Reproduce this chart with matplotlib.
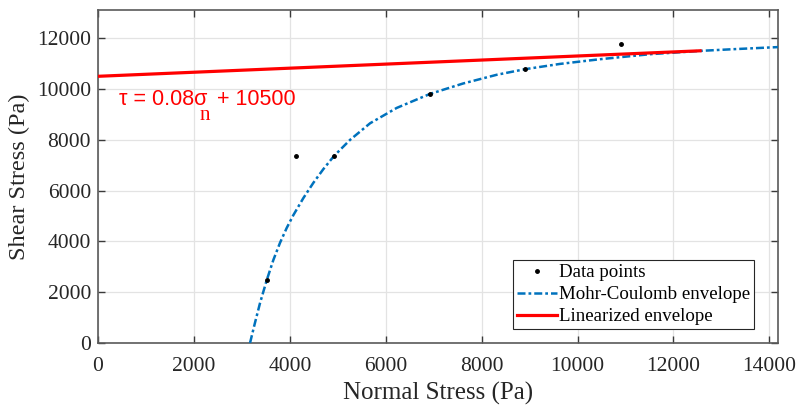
import numpy as np
import matplotlib
matplotlib.use("Agg")
import matplotlib.pyplot as plt

# Measured data points (normal stress, shear stress), Pa
sigma_pts = [3518, 4123, 4915, 6924, 8911, 10907]
tau_pts = [2470, 7365, 7365, 9807, 10780, 11764]

# Mohr-Coulomb envelope
sigma_mc = [3170, 3274, 3379, 3518, 3657, 3796, 3935, 4073, 4282, 4490,
            4699, 4922, 5255, 5673, 6229, 6924, 7619, 8315, 8905, 9635,
            10469, 11512, 12555, 13243, 14180]
tau_mc = [0, 800, 1575, 2470, 3271, 3947, 4529, 5032, 5705, 6304,
          6845, 7365, 7995, 8650, 9255, 9807, 10220, 10560, 10780, 10988,
          11173, 11370, 11500, 11567, 11650]

# Linearized envelope end points
sigma_lin = [0, 12555]
tau_lin = [10500, 11504]

plt.rcParams['font.family'] = ['Liberation Serif', 'DejaVu Serif']

fig = plt.figure(figsize=(8.06, 4.05), dpi=100)
ax = fig.add_axes([98/806, 1-343/405, 680/806, 333.5/405])

ax.plot(sigma_pts, tau_pts, 'k.', markersize=5, label='Data points', zorder=4)
ax.plot(sigma_mc, tau_mc, color='#0072BD', lw=1.8, dashes=(3.2, 1.2, 1.1, 1.2),
        label='Mohr-Coulomb envelope', zorder=3)
ax.plot(sigma_lin, tau_lin, color='#FF0000', lw=2.3, label='Linearized envelope', zorder=3)

# equation label: main text, subscript n, then the rest
sans = ['Liberation Sans', 'DejaVu Sans']
t1 = ax.text(438, 9374, 'τ = 0.08σ', color='#FF0000', fontsize=15.5, family=sans,
             va='baseline', ha='left')
ax.annotate('n', xy=(1, 0), xycoords=t1, xytext=(-8, -10), textcoords='offset pixels',
            color='#FF0000', fontsize=15, va='baseline', ha='left')
ax.annotate('+ 10500', xy=(1, 0), xycoords=t1, xytext=(10, 0), textcoords='offset pixels',
            color='#FF0000', fontsize=15.5, family=sans, va='bottom', ha='left')

ax.set_xlim(0, 14180)
ax.set_ylim(0, 13130)
ax.set_xticks(np.arange(0, 14001, 2000))
ax.set_yticks(np.arange(0, 12001, 2000))
ax.grid(True, color='#e3e3e3', lw=0.9)
ax.set_axisbelow(True)
ax.tick_params(direction='in', top=True, right=True, length=5, width=1,
               color='#3a3a3a', labelsize=15.5, labelcolor='#262626')
ax.tick_params(axis='x', pad=10)
ax.tick_params(axis='y', pad=5)
for s in ax.spines.values():
    s.set_color('#5a5a5a')
    s.set_linewidth(1.2)

ax.set_xlabel('Normal Stress (Pa)', fontsize=18, color='#262626', labelpad=4)
ax.set_ylabel('Shear Stress (Pa)', fontsize=17.5, color='#262626')
ax.yaxis.set_label_coords((30-98)/680, 0.5)

leg = ax.legend(loc='lower right', bbox_to_anchor=(0.965, 0.042), borderaxespad=0,
                fontsize=13.6, fancybox=False, framealpha=1, edgecolor='#262626',
                handlelength=2.15, handletextpad=0.1, borderpad=0.2, labelspacing=0.25)
leg.get_frame().set_linewidth(0.8)

fig.savefig('out.png', dpi=100)
